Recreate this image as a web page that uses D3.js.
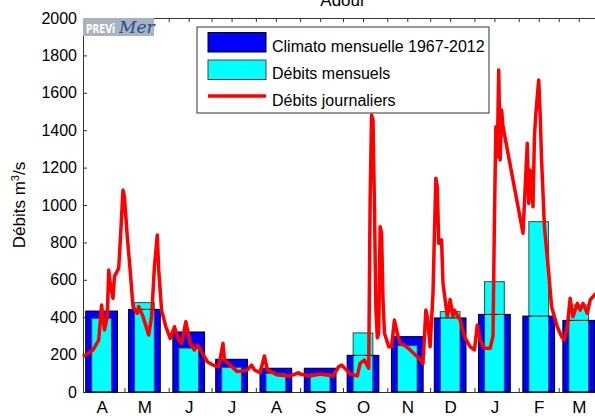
<!DOCTYPE html>
<html>
<head>
<meta charset="utf-8">
<script src="https://cdn.jsdelivr.net/npm/d3@7"></script>
<style>
  body { margin: 0; background: #fff; }
  svg { display: block; font-family: "Liberation Sans", Arial, Helvetica, sans-serif; }
</style>
</head>
<body>
<div id="chart"></div>
<script>
// months shown on the x axis (April -> March)
const monthLabels = ["A", "M", "J", "J", "A", "S", "O", "N", "D", "J", "F", "M"];
const monthDates = ["2013-04-15", "2013-05-15", "2013-06-15", "2013-07-15", "2013-08-15", "2013-09-15",
                    "2013-10-15", "2013-11-15", "2013-12-15", "2014-01-15", "2014-02-15", "2014-03-15"];

// Climato mensuelle 1967-2012
const climato = [433, 442, 321, 175, 127, 127, 196, 296, 396, 415, 406, 383];
// Débits mensuels
const debitsMensuels = [394, 478, 235, 132, 100, 100, 316, 248, 430, 590, 911, 465];

// Débits journaliers (date, m3/s)
const jourDates = [
  "2013-04-02", "2013-04-09", "2013-04-13", "2013-04-15", "2013-04-17", "2013-04-19", "2013-04-20",
  "2013-04-21", "2013-04-23", "2013-04-24", "2013-04-27", "2013-04-28", "2013-04-30", "2013-05-01",
  "2013-05-03", "2013-05-05", "2013-05-07", "2013-05-10", "2013-05-11", "2013-05-14", "2013-05-18",
  "2013-05-20", "2013-05-22", "2013-05-24", "2013-05-25", "2013-05-27", "2013-05-30", "2013-06-02",
  "2013-06-05", "2013-06-08", "2013-06-10", "2013-06-13", "2013-06-16", "2013-06-19", "2013-06-21",
  "2013-06-22", "2013-06-28", "2013-07-02", "2013-07-06", "2013-07-09", "2013-07-10", "2013-07-14",
  "2013-07-19", "2013-07-26", "2013-07-29", "2013-07-31", "2013-08-04", "2013-08-07", "2013-08-09",
  "2013-08-16", "2013-08-25", "2013-08-31", "2013-09-01", "2013-09-08", "2013-09-15", "2013-09-24",
  "2013-09-28", "2013-09-30", "2013-10-03", "2013-10-06", "2013-10-11", "2013-10-13", "2013-10-16",
  "2013-10-19", "2013-10-20", "2013-10-21", "2013-10-22", "2013-10-23", "2013-10-24", "2013-10-25",
  "2013-10-26", "2013-10-27", "2013-10-28", "2013-10-29", "2013-10-30", "2013-11-02", "2013-11-04",
  "2013-11-06", "2013-11-08", "2013-11-10", "2013-11-13", "2013-11-17", "2013-11-22", "2013-11-26",
  "2013-11-28", "2013-11-29", "2013-12-01", "2013-12-03", "2013-12-04", "2013-12-05", "2013-12-06",
  "2013-12-07", "2013-12-09", "2013-12-10", "2013-12-13", "2013-12-15", "2013-12-17", "2013-12-18",
  "2013-12-22", "2013-12-25", "2013-12-29", "2014-01-01", "2014-01-03", "2014-01-05", "2014-01-08",
  "2014-01-12", "2014-01-14", "2014-01-15", "2014-01-16", "2014-01-17", "2014-01-18", "2014-01-19",
  "2014-01-20", "2014-01-21", "2014-02-04", "2014-02-07", "2014-02-08", "2014-02-09", "2014-02-11",
  "2014-02-12", "2014-02-13", "2014-02-15", "2014-02-16", "2014-02-17", "2014-02-19", "2014-02-22",
  "2014-02-24", "2014-02-28", "2014-03-03", "2014-03-05", "2014-03-07", "2014-03-09", "2014-03-11",
  "2014-03-14", "2014-03-16", "2014-03-18", "2014-03-21", "2014-03-23", "2014-03-27"
];
const jourValues = [
  189, 225, 278, 465, 332, 403, 652,
  581, 501, 617, 662, 795, 1080, 1045,
  830, 652, 456, 421, 456, 403, 305,
  403, 670, 840, 652, 438, 349, 287,
  349, 278, 260, 376, 260, 225, 251,
  242, 162, 144, 135, 260, 171, 144,
  109, 118, 144, 118, 103, 193, 118,
  91, 86, 103, 96, 86, 96, 86,
  135, 144, 121, 96, 86, 153, 171,
  127, 1030, 1481, 1455, 1000, 450, 290,
  314, 884, 849, 492, 316, 242, 242,
  385, 314, 260, 251, 225, 189, 153,
  438, 403, 242, 528, 849, 1143, 1098,
  795, 813, 581, 403, 495, 403, 438,
  385, 296, 242, 225, 358, 278, 234,
  234, 300, 920, 1419, 1258, 1722, 1241,
  1508, 1419, 849, 1330, 1008, 1187, 991,
  1365, 1490, 1669, 1490, 1241, 884, 635,
  456, 349, 296, 278, 349, 501, 403,
  474, 438, 474, 421, 492, 528
];

const yTicks = [0, 200, 400, 600, 800, 1000, 1200, 1400, 1600, 1800, 2000];

const W = 595, H = 416;
const margin = { top: 18, left: 83, bottom: 24 };
const plotRight = 603;
const parse = d3.timeParse("%Y-%m-%d");

const svg = d3.select("#chart").append("svg")
    .attr("width", W)
    .attr("height", H);

const x = d3.scaleTime()
    .domain([parse("2013-04-02"), parse("2014-04-01")])
    .range([margin.left, plotRight]);

const y = d3.scaleLinear()
    .domain([0, 2000])
    .range([H - margin.bottom, margin.top]);

// ticks on the 1st and 15th of every month
const tickDates = [];
d3.timeMonth.range(parse("2013-04-01"), parse("2014-04-02")).forEach(m => {
    tickDates.push(m);
    tickDates.push(d3.timeDay.offset(m, 14));
});
const visibleTicks = tickDates.filter(d => d >= x.domain()[0] && d <= x.domain()[1]);

// ---- axes (drawn under the bars, like the original)
const axisColor = "#333";

svg.append("g")
    .attr("transform", `translate(0,${margin.top})`)
    .call(d3.axisTop(x).tickValues(visibleTicks).tickSizeInner(-4).tickSizeOuter(0).tickFormat(""))
    .call(g => g.selectAll("line,path").attr("stroke", axisColor));

const labelFor = new Map(monthDates.map((d, i) => [+parse(d), monthLabels[i]]));

svg.append("g")
    .attr("transform", `translate(0,${H - margin.bottom})`)
    .call(d3.axisBottom(x).tickValues(visibleTicks).tickSizeInner(-4).tickSizeOuter(0)
        .tickPadding(6)
        .tickFormat(d => labelFor.get(+d) || ""))
    .call(g => g.selectAll("line,path").attr("stroke", axisColor))
    .call(g => g.selectAll("text").attr("fill", "#000").style("font-size", "17px").attr("dy", "0.9em"));

svg.append("g")
    .attr("transform", `translate(${margin.left},0)`)
    .call(d3.axisLeft(y).tickValues(yTicks).tickSizeInner(-4).tickSizeOuter(0).tickPadding(6)
        .tickFormat(d3.format("d")))
    .call(g => g.selectAll("line,path").attr("stroke", axisColor))
    .call(g => g.selectAll("text").attr("fill", "#000").style("font-size", "16px"));

// ---- bars
const monthWidth = x(parse("2013-05-15")) - x(parse("2013-04-15"));
const wideW = monthWidth * 0.74;
const narrowW = monthWidth * 0.46;
const bars = svg.append("g");

bars.selectAll("rect.climato")
    .data(climato)
    .join("rect")
    .attr("class", "climato")
    .attr("x", (d, i) => x(parse(monthDates[i])) - wideW / 2)
    .attr("y", d => y(d))
    .attr("width", wideW)
    .attr("height", d => y(0) - y(d))
    .attr("fill", "#0000ff");

bars.selectAll("rect.mensuel")
    .data(debitsMensuels)
    .join("rect")
    .attr("class", "mensuel")
    .attr("x", (d, i) => x(parse(monthDates[i])) - narrowW / 2)
    .attr("y", d => y(d))
    .attr("width", narrowW)
    .attr("height", d => y(0) - y(d))
    .attr("fill", "#00ffff")
    .attr("stroke", "#444")
    .attr("stroke-width", 1);

// outline of the climato bars shows over the cyan ones
bars.selectAll("rect.climatoEdge")
    .data(climato)
    .join("rect")
    .attr("class", "climatoEdge")
    .attr("x", (d, i) => x(parse(monthDates[i])) - wideW / 2)
    .attr("y", d => y(d))
    .attr("width", wideW)
    .attr("height", d => y(0) - y(d))
    .attr("fill", "none")
    .attr("stroke", "#000")
    .attr("stroke-width", 1);

// ---- daily line
const daily = jourDates.map((d, i) => ({ date: parse(d), value: jourValues[i] }));
const line = d3.line()
    .x(d => x(d.date))
    .y(d => y(d.value));

svg.append("path")
    .datum(daily)
    .attr("fill", "none")
    .attr("stroke", "#ff0000")
    .attr("stroke-width", 3.5)
    .attr("stroke-linejoin", "round")
    .attr("d", line);

// ---- title (mostly cut by the top of the picture)
svg.append("text")
    .attr("x", (margin.left + plotRight) / 2)
    .attr("y", 6)
    .attr("text-anchor", "middle")
    .style("font-size", "17px")
    .text("Adour");

// ---- y label
svg.append("text")
    .attr("transform", `translate(25,${(margin.top + H - margin.bottom) / 2}) rotate(-90)`)
    .attr("text-anchor", "middle")
    .style("font-size", "17px")
    .call(t => {
        t.append("tspan").text("Débits m");
        t.append("tspan").attr("baseline-shift", "super").style("font-size", "11px").text("3");
        t.append("tspan").text("/s");
    });

// ---- PREVIMer logo (one text, two styles)
const logo = svg.append("g");
logo.append("rect")
    .attr("x", margin.left).attr("y", margin.top)
    .attr("width", 71).attr("height", 18)
    .attr("fill", "#a9b3bd");
logo.append("text")
    .attr("x", margin.left + 3).attr("y", margin.top + 14.5)
    .call(t => {
        t.append("tspan")
            .attr("fill", "#fff")
            .attr("textLength", 29)
            .attr("lengthAdjust", "spacingAndGlyphs")
            .style("font-family", "'DejaVu Sans Condensed', 'Liberation Sans Narrow', sans-serif")
            .style("font-weight", "bold")
            .style("font-size", "13px")
            .text("PREVi");
        t.append("tspan")
            .attr("x", margin.left + 36)
            .attr("fill", "#1f4e9c")
            .style("font-family", "'DejaVu Serif', 'Liberation Serif', serif")
            .style("font-style", "italic")
            .style("font-size", "17px")
            .text("Mer");
    });

// ---- legend
const legend = svg.append("g");
legend.append("rect")
    .attr("x", 197).attr("y", 27)
    .attr("width", 292).attr("height", 86)
    .attr("fill", "#fff")
    .attr("stroke", "#333");

const legendItems = [
    { label: "Climato mensuelle 1967-2012", type: "bar", color: "#0000ff", stroke: "#000" },
    { label: "Débits mensuels", type: "bar", color: "#00ffff", stroke: "#444" },
    { label: "Débits journaliers", type: "line", color: "#ff0000" }
];
const legendBase = [51.5, 79, 106];

legendItems.forEach((it, i) => {
    const b = legendBase[i];
    if (it.type === "bar") {
        legend.append("rect")
            .attr("x", 208).attr("y", b - 19)
            .attr("width", 58).attr("height", 19.5)
            .attr("fill", it.color)
            .attr("stroke", it.stroke);
    } else {
        legend.append("line")
            .attr("x1", 208).attr("x2", 266)
            .attr("y1", b - 10).attr("y2", b - 10)
            .attr("stroke", it.color)
            .attr("stroke-width", 3.5);
    }
    legend.append("text")
        .attr("x", 272).attr("y", b)
        .style("font-size", "16px")
        .text(it.label);
});
</script>
</body>
</html>
